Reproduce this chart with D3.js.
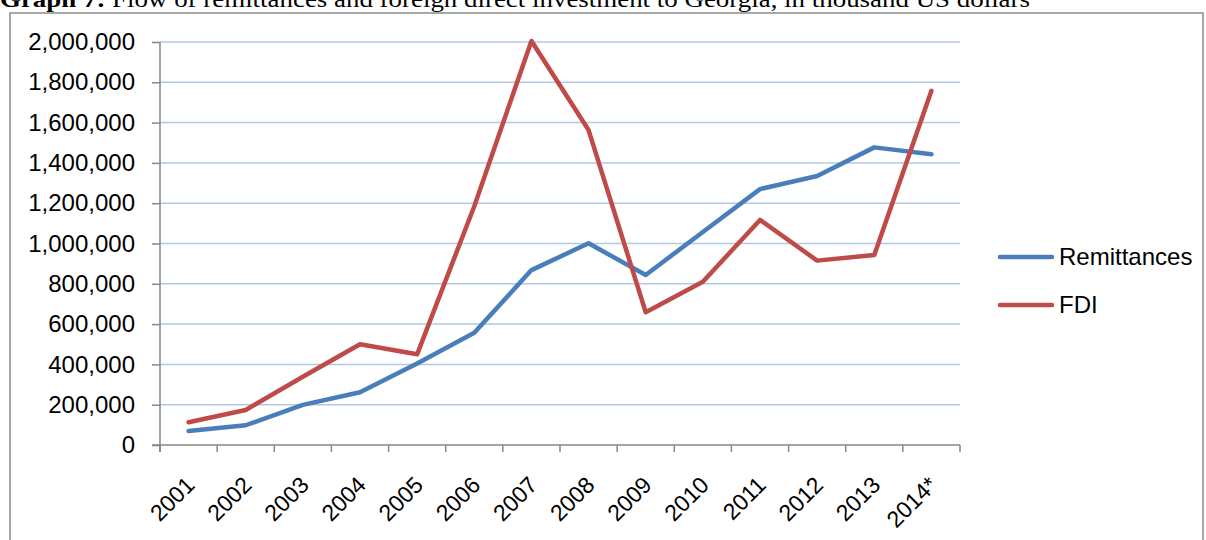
<!DOCTYPE html>
<html>
<head>
<meta charset="utf-8">
<script src="https://cdn.jsdelivr.net/npm/d3@7/dist/d3.min.js"></script>
<style>
  html, body { margin: 0; padding: 0; background: #fff; }
  svg { display: block; }
</style>
</head>
<body>
<svg id="chart" width="1206" height="540"></svg>
<script>
const years = ["2001","2002","2003","2004","2005","2006","2007","2008","2009","2010","2011","2012","2013","2014*"];
const remittances = [69000, 98000, 199000, 262000, 405000, 557000, 868000, 1001000, 844000, 1057000, 1270000, 1335000, 1477000, 1443000];
const fdi = [113000, 174000, 339000, 500000, 450000, 1185000, 2005000, 1563000, 659000, 810000, 1117000, 915000, 943000, 1758000];
const yTicks = [0, 200000, 400000, 600000, 800000, 1000000, 1200000, 1400000, 1600000, 1800000, 2000000];
const seriesNames = ["Remittances", "FDI"];
const seriesColors = ["#4a7ebb", "#be4b48"];

(function () {
const svg = d3.select("#chart");
const font = "'Liberation Sans', Arial, sans-serif";

// outer frame
svg.append("rect").attr("x", 10).attr("y", 13).attr("width", 1193).attr("height", 540)
  .attr("fill", "none").attr("stroke", "#8c8c8c").attr("stroke-width", 1.5);

// title (cropped at top, as in the reference)
const title = svg.append("text").attr("x", 0).attr("y", 7)
  .attr("font-family", "'Liberation Serif', 'Times New Roman', serif").attr("font-size", 24)
  .attr("fill", "#000")
  .attr("textLength", 1030).attr("lengthAdjust", "spacingAndGlyphs");
title.append("tspan").attr("font-weight", "bold").text("Graph 7:");
title.append("tspan").text(" Flow of remittances and foreign direct investment to Georgia, in thousand US dollars");

const pLeft = 160, pRight = 960, pTop = 42, pBottom = 445;
const x = d3.scaleBand().domain(years).range([pLeft, pRight]).padding(0);
const y = d3.scaleLinear().domain([0, 2000000]).range([pBottom, pTop]);

// gridlines
svg.append("g").selectAll("line").data(yTicks.filter(d => d > 0)).join("line")
  .attr("x1", pLeft).attr("x2", pRight)
  .attr("y1", d => y(d)).attr("y2", d => y(d))
  .attr("stroke", "#b3c8e6").attr("stroke-width", 1.5);

// y axis
const yAxis = d3.axisLeft(y).tickValues(yTicks).tickSize(8).tickPadding(17)
  .tickFormat(d3.format(","));
const gy = svg.append("g").attr("transform", `translate(${pLeft},0)`).call(yAxis);
gy.select(".domain").attr("stroke", "#868686").attr("stroke-width", 1.5)
  .attr("d", `M0,${pTop}V${pBottom + 7}`);
gy.selectAll(".tick line").attr("stroke", "#868686").attr("stroke-width", 1.5);
gy.selectAll(".tick text").attr("font-family", font).attr("font-size", 24).attr("fill", "#000");

// x axis
const gx = svg.append("g").attr("transform", `translate(0,${pBottom})`);
gx.append("line").attr("x1", pLeft - 8).attr("x2", pRight).attr("y1", 0).attr("y2", 0)
  .attr("stroke", "#868686").attr("stroke-width", 1.5);
const tickPos = years.map(d => x(d)).concat([x(years[years.length - 1]) + x.bandwidth()]);
gx.selectAll("line.tk").data(tickPos).join("line").attr("class", "tk")
  .attr("x1", d => d).attr("x2", d => d).attr("y1", 0).attr("y2", 7)
  .attr("stroke", "#868686").attr("stroke-width", 1.5);
gx.selectAll("text").data(years).join("text")
  .attr("transform", d => `translate(${x(d) + x.bandwidth() / 2 - 4},${30}) rotate(-45)`)
  .attr("text-anchor", "end").attr("dy", "0.7em")
  .attr("font-family", font).attr("font-size", 23).attr("fill", "#000")
  .text(d => d);

// lines
const line = d3.line().x((d, i) => x(years[i]) + x.bandwidth() / 2).y(d => y(d));
[remittances, fdi].forEach((data, k) => {
  svg.append("path").datum(data).attr("d", line)
    .attr("fill", "none").attr("stroke", seriesColors[k]).attr("stroke-width", 4.5)
    .attr("stroke-linejoin", "round").attr("stroke-linecap", "round");
});

// legend
const legY = [257, 305];
seriesNames.forEach((name, k) => {
  svg.append("line").attr("x1", 1000).attr("x2", 1052).attr("y1", legY[k]).attr("y2", legY[k])
    .attr("stroke", seriesColors[k]).attr("stroke-width", 4.5).attr("stroke-linecap", "round");
  svg.append("text").attr("x", 1059).attr("y", legY[k]).attr("dy", "0.35em")
    .attr("font-family", font).attr("font-size", 24).attr("fill", "#000").text(name);
});
})();
</script>
</body>
</html>
